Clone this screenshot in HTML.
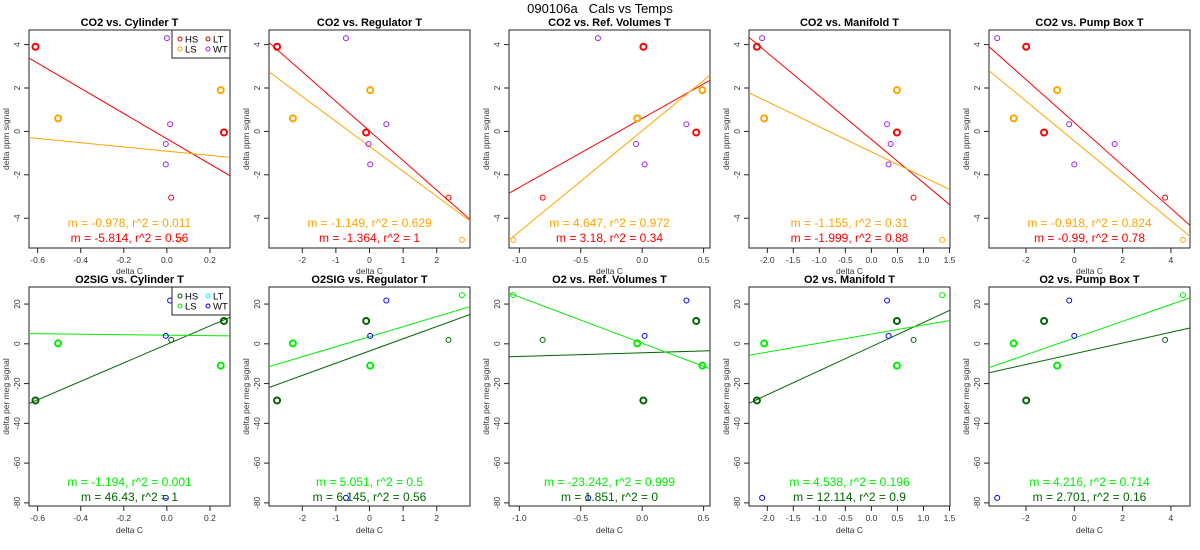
<!DOCTYPE html>
<html><head><meta charset="utf-8"><style>
html,body{margin:0;padding:0;background:#fff;}
svg{display:block;font-family:"Liberation Sans",Arial,sans-serif;}
</style></head><body>
<svg id="chart" width="1200" height="550" viewBox="0 0 1200 550" xmlns="http://www.w3.org/2000/svg">
<rect width="1200" height="550" fill="#fff"/>
<text x="600" y="13" text-anchor="middle" font-size="13" style="white-space:pre">090106a   Cals vs Temps</text>
</svg>
<script>
const co2Titles = ["CO2 vs. Cylinder T","CO2 vs. Regulator T","CO2 vs. Ref. Volumes T","CO2 vs. Manifold T","CO2 vs. Pump Box T"];
const o2Titles = ["O2SIG vs. Cylinder T","O2SIG vs. Regulator T","O2 vs. Ref. Volumes T","O2 vs. Manifold T","O2 vs. Pump Box T"];
const xDomains = [[-0.64,0.293],[-2.99,2.99],[-1.084,0.552],[-2.352,1.51],[-3.53,4.79]];
const xTicks = [[-0.6,-0.4,-0.2,0,0.2],[-2,-1,0,1,2],[-1,-0.5,0,0.5],[-2,-1.5,-1,-0.5,0,0.5,1,1.5],[-2,0,2,4]];
const xTickLabels = [["-0.6","-0.4","-0.2","0.0","0.2"],["-2","-1","0","1","2"],["-1.0","-0.5","0.0","0.5"],["-2.0","-1.5","-1.0","-0.5","0.0","0.5","1.0","1.5"],["-2","0","2","4"]];
const co2YDomain = [-5.372,4.672];
const co2YTicks = [-4,-2,0,2,4];
const o2YDomain = [-81.58,28.58];
const o2YTicks = [-80,-60,-40,-20,0,20];

const hsX = [[-0.61,0.265],[-2.75,-0.1],[0.01,0.44],[-2.2,0.49],[-1.99,-1.25]];
const lsX = [[-0.505,0.25],[-2.28,0.02],[-0.04,0.49],[-2.06,0.49],[-2.51,-0.71]];
const ltX = [0.02,2.35,-0.81,0.81,3.76];
const lt2X = [0.06,2.75,-1.05,1.36,4.5];
const co2WtX = [[0.0,0.015,-0.005,-0.005],[-0.7,0.5,-0.03,0.02],[-0.36,0.36,-0.05,0.02],[-2.1,0.30,0.37,0.33],[-3.19,-0.21,1.67,0.0]];
const co2WtY = [4.3,0.33,-0.58,-1.52];
const co2HsY = [3.9,-0.05];
const co2LsY = [0.6,1.9];
const co2LtY = -3.05;
const co2Lt2Y = -5.0;
const o2HsY = [-28.5,11.5];
const o2LsY = [0.2,-11];
const o2LtY = 2;
const o2Lt2Y = 24.5;
const o2WtX = [[0.015,-0.005,-0.005],[0.5,0.02,-0.7],[0.36,0.02,-0.44],[0.30,0.33,-2.1],[-0.21,0.0,-3.19]];
const o2WtY = [21.8,4,-77.5];

const co2HsSlope = [-5.814,-1.364,3.18,-1.999,-0.99];
const co2HsInt = [-0.34,0.02,0.6,-0.37,0.41];
const co2HsR2 = [0.56,1,0.34,0.88,0.78];
const co2LsSlope = [-0.978,-1.149,4.647,-1.155,-0.918];
const co2LsInt = [-0.91,-0.69,0.03,-0.94,-0.44];
const co2LsR2 = [0.011,0.629,0.972,0.31,0.824];
const o2HsSlope = [46.43,6.145,1.851,12.114,2.701];
const o2HsInt = [-0.3,-3.6,-4.5,-1.4,-5.0];
const o2HsR2 = [1,0.56,0,0.9,0.16];
const o2LsSlope = [-1.194,5.051,-23.242,4.538,4.216];
const o2LsInt = [4.35,3.6,0.3,4.9,2.9];
const o2LsR2 = [0.001,0.5,0.999,0.196,0.714];

const NS = "http://www.w3.org/2000/svg";
const svg = document.getElementById("chart");
function mk(tag, attrs, parent){
  const e = document.createElementNS(NS, tag);
  for (const k in attrs) e.setAttribute(k, attrs[k]);
  (parent||svg).appendChild(e);
  return e;
}

function drawPanel(col,row){
  const isCo2 = row===0;
  const L = col*240+29, R = col*240+230;
  const T = isCo2?30:287, B = isCo2?248:506;
  const xd = xDomains[col], yd = isCo2?co2YDomain:o2YDomain;
  const sx = v => L+(v-xd[0])/(xd[1]-xd[0])*(R-L);
  const sy = v => B-(v-yd[0])/(yd[1]-yd[0])*(B-T);
  const c1 = isCo2?"#ff0000":"#006400", c2 = isCo2?"#ffa500":"#00ee00";
  const c3 = isCo2?"#ff0000":"#006400", c4 = isCo2?"#ffa500":"#00ee00";
  const cw = isCo2?"#a020f0":"#0000ff";
  const g = mk("g",{});
  
  
  const id = "clip"+row+col;
  const cp = mk("clipPath",{id:id},g);
  mk("rect",{x:L,y:T,width:R-L,height:B-T},cp);
  const t = mk("text",{x:(L+R)/2,y:T-4,"text-anchor":"middle","font-size":"11","font-weight":"bold"},g);
  t.textContent = isCo2?co2Titles[col]:o2Titles[col];
  
  
  const ax = mk("g",{stroke:"#222","stroke-width":"1",fill:"none"},g);
  
  
  xTicks[col].forEach((v,i)=>{
    const x = sx(v);
    mk("line",{x1:x,y1:B,x2:x,y2:B+5},ax);
    const tl = mk("text",{x:x,y:B+15,"text-anchor":"middle","font-size":"8.5",fill:"#333",stroke:"none"},g);
    tl.textContent = xTickLabels[col][i];
    
    
  });
  const xt = xTicks[col];
  mk("line",{x1:sx(xt[0]),y1:B,x2:sx(xt[xt.length-1]),y2:B},ax);
  const yt = isCo2?co2YTicks:o2YTicks;
  yt.forEach(v=>{
    const y = sy(v);
    mk("line",{x1:L,y1:y,x2:L-5,y2:y},ax);
    const tl = mk("text",{x:0,y:0,"text-anchor":"middle","font-size":"8.5",fill:"#333",transform:`translate(${L-9},${y}) rotate(-90)`},g);
    tl.textContent = String(v);
    
    
  });
  mk("line",{x1:L,y1:sy(yt[0]),x2:L,y2:sy(yt[yt.length-1])},ax);
  mk("rect",{x:L,y:T,width:R-L,height:B-T,stroke:"#222",fill:"none"},g);
  const xl = mk("text",{x:(L+R)/2,y:isCo2?274:533,"text-anchor":"middle","font-size":"8.5",fill:"#333"},g);
  xl.textContent = "delta C";
  
  
  const yl = mk("text",{x:0,y:0,"text-anchor":"middle","font-size":"8.5",fill:"#333",transform:`translate(${col*240+9},${(T+B)/2}) rotate(-90)`},g);
  yl.textContent = isCo2?"delta ppm signal":"delta per meg signal";
  
  
  const lg = mk("g",{"clip-path":`url(#${id})`},g);
  const hsS = isCo2?co2HsSlope[col]:o2HsSlope[col], hsI = isCo2?co2HsInt[col]:o2HsInt[col];
  const lsS = isCo2?co2LsSlope[col]:o2LsSlope[col], lsI = isCo2?co2LsInt[col]:o2LsInt[col];
  const l1 = mk("line",{x1:sx(xd[0]),y1:sy(hsI+hsS*xd[0]),x2:sx(xd[1]),y2:sy(hsI+hsS*xd[1]),stroke:c1,"stroke-width":"1"},lg);
  
  
  const l2 = mk("line",{x1:sx(xd[0]),y1:sy(lsI+lsS*xd[0]),x2:sx(xd[1]),y2:sy(lsI+lsS*xd[1]),stroke:c2,"stroke-width":"1"},lg);
  
  
  function pt(x,y,color,thick,name){
    const c = mk("circle",{cx:sx(x),cy:sy(y),r:thick?3:2.5,fill:"none",stroke:color,"stroke-width":thick?2:1},lg);
    
    
  }
  const hsY = isCo2?co2HsY:o2HsY, lsY = isCo2?co2LsY:o2LsY;
  hsX[col].forEach((x,i)=>pt(x,hsY[i],c1,true,'hs-point'));
  lsX[col].forEach((x,i)=>pt(x,lsY[i],c2,true,'ls-point'));
  pt(ltX[col],isCo2?co2LtY:o2LtY,c3,false,'lt-point');
  pt(lt2X[col],isCo2?co2Lt2Y:o2Lt2Y,c4,false,'lt-point');
  const wx = isCo2?co2WtX[col]:o2WtX[col], wy = isCo2?co2WtY:o2WtY;
  wx.forEach((x,i)=>pt(x,wy[i],cw,false,'wt-point'));
  const a1 = mk("text",{x:(L+R)/2,y:isCo2?227:486,"text-anchor":"middle","font-size":"12",fill:c2},g);
  a1.textContent = `m = ${lsS}, r^2 = ${isCo2?co2LsR2[col]:o2LsR2[col]}`;
  
  
  const a2 = mk("text",{x:(L+R)/2,y:isCo2?242:501,"text-anchor":"middle","font-size":"12",fill:c1},g);
  a2.textContent = `m = ${hsS}, r^2 = ${isCo2?co2HsR2[col]:o2HsR2[col]}`;
  
  
  if (col===0){
    const lgd = mk("g",{},g);
    
    
    mk("rect",{x:172,y:T,width:R-172,height:28,fill:"#fff",stroke:"#222"},lgd);
    const items = isCo2?[["HS","#ff0000",180,T+9],["LT","#cd0000",208,T+9],["LS","#ffa500",180,T+19],["WT","#a020f0",208,T+19]]
                       :[["HS","#006400",180,T+9],["LT","#00ffff",208,T+9],["LS","#00ee00",180,T+19],["WT","#0000ff",208,T+19]];
    items.forEach(it=>{
      const c = mk("circle",{cx:it[2],cy:it[3],r:2,fill:"none",stroke:it[1]},lgd);
      
      
      const tx = mk("text",{x:it[2]+5,y:it[3]+3.5,"font-size":"9.5"},lgd);
      tx.textContent = it[0];
      
      
    });
  }
}
for (let r=0;r<2;r++) for (let c=0;c<5;c++) drawPanel(c,r);
</script>
</body></html>
